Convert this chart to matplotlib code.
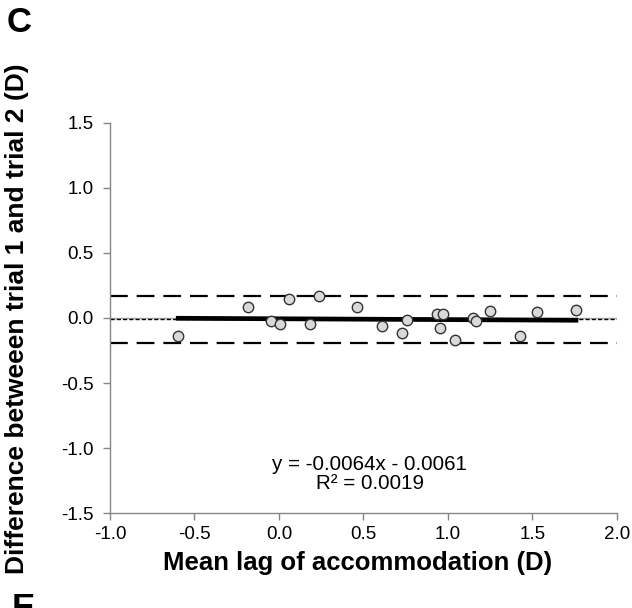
import matplotlib
matplotlib.use("Agg")
import matplotlib.pyplot as plt
import numpy as np

plt.rcParams['font.family'] = ['Liberation Sans', 'DejaVu Sans']

# mean lag of accommodation (D) and trial difference (D)
mean_lag = [-0.596, -0.183, -0.048, 0.005, 0.060, 0.186, 0.235, 0.462,
            0.612, 0.728, 0.757, 0.934, 0.974, 0.956, 1.043, 1.147,
            1.167, 1.252, 1.429, 1.528, 1.758]
diff = [-0.138, 0.082, -0.023, -0.046, 0.144, -0.046, 0.172, 0.087,
        -0.062, -0.118, -0.015, 0.028, 0.028, -0.079, -0.169, 0.002,
        -0.021, 0.054, -0.136, 0.044, 0.062]

mean_diff = -0.01
upper_loa = 0.17
lower_loa = -0.19
slope = -0.0064
intercept = -0.0061

xticks = [-1.0, -0.5, 0.0, 0.5, 1.0, 1.5, 2.0]
yticks = [-1.5, -1.0, -0.5, 0.0, 0.5, 1.0, 1.5]

fig = plt.figure(figsize=(6.32, 6.08), dpi=100)
ax = fig.add_axes([0.174, 0.156, 0.802, 0.642])

ax.axhline(0, color='#a6a6a6', lw=1.0, zorder=1)
ax.axhline(upper_loa, color='black', lw=1.6, ls=(0, (8, 4)), zorder=2)
ax.axhline(lower_loa, color='black', lw=1.6, ls=(0, (8, 4)), zorder=2)
ax.axhline(mean_diff, color='black', lw=1.0, ls=(0, (3, 1.5)), zorder=2)

xr = np.array([min(mean_lag), max(mean_lag)])
ax.plot(xr, slope * xr + intercept, color='black', lw=3.4, zorder=3)

ax.plot(mean_lag, diff, 'o', ms=7.5, mfc='#d9d9d9', mec='#333333',
        mew=1.0, zorder=4)

ax.set_xlim(-1.0, 2.0)
ax.set_ylim(-1.5, 1.5)
ax.set_xticks(xticks)
ax.set_yticks(yticks)
ax.set_xticklabels(['%.1f' % v for v in xticks])
ax.set_yticklabels(['%.1f' % v for v in yticks])
ax.tick_params(direction='out', length=5, width=1, color='#868686',
               labelsize=13.5)
ax.tick_params(axis='x', pad=4)
ax.tick_params(axis='y', pad=7)

for s in ['top', 'right']:
    ax.spines[s].set_visible(False)
for s in ['left', 'bottom']:
    ax.spines[s].set_color('#868686')
    ax.spines[s].set_linewidth(1)

ax.text(0.537, -1.2, 'y = -0.0064x - 0.0061\nR² = 0.0019', ha='center',
        va='center', fontsize=14.8, linespacing=1.05)

fig.text(358 / 632, 1 - 563 / 608, 'Mean lag of accommodation (D)',
         ha='center', va='center', fontsize=18.5, fontweight='bold')
fig.text(17 / 632, 1 - 319 / 608, 'Difference betweeen trial 1 and trial 2 (D)',
         ha='center', va='center', rotation=90, fontsize=19,
         fontweight='bold')

fig.text(7 / 632, 1 - 22 / 608, 'C', ha='left', va='center',
         fontsize=25, fontweight='bold')
fig.text(12 / 632, 1 - 592 / 608, 'E', ha='left', va='top',
         fontsize=25, fontweight='bold')

fig.savefig('out.png', dpi=100)
